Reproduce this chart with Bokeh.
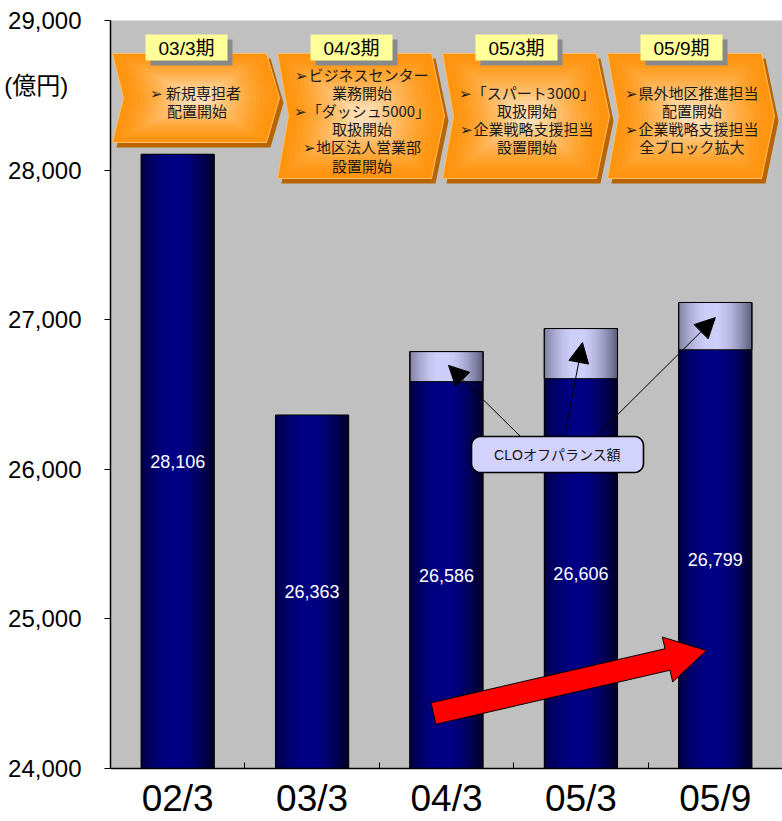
import math
from bokeh.plotting import figure
from bokeh.models import FixedTicker, NumeralTickFormatter, Arrow, NormalHead, Range1d
from bokeh.embed import file_html
from bokeh.resources import INLINE
from bokeh.core.properties import value

# ---------------- data ----------------
periods = ["02/3", "03/3", "04/3", "05/3", "05/9"]
loan_balance = [28106, 26363, 26586, 26606, 26799]
clo_offbalance = [0, 0, 201, 335, 316]
y_ticks = [24000, 25000, 26000, 27000, 28000, 29000]
unit_label = "(億円)"
unit_label_pos = 28565

milestone_periods = ["03/3期", "04/3期", "05/3期", "05/9期"]
milestone_texts = [
    ["➢  新規専担者", "配置開始"],
    ["➢ビジネスセンター", "業務開始", "➢「ダッシュ5000」", "取扱開始", "➢地区法人営業部", "設置開始"],
    ["➢「スパート3000」", "取扱開始", "➢企業戦略支援担当", "設置開始"],
    ["➢県外地区推進担当", "配置開始", "➢企業戦略支援担当", "全ブロック拡大"],
]
callout_text = "CLOオフパランス額"
callout_bars = [2, 3, 4]

# ---------------- figure ----------------
Y0, Y1 = y_ticks[0], y_ticks[-1]
p = figure(width=782, height=821, x_range=Range1d(0, len(periods)), y_range=Range1d(Y0, Y1),
           output_backend="svg", toolbar_location=None,
           min_border_left=110, min_border_right=0, min_border_top=20, min_border_bottom=53)
p.background_fill_color = "#c0c0c0"
p.border_fill_color = "white"
p.outline_line_color = None
p.grid.visible = False

# major ticks carry labels (incl. the unit label), minor ticks draw the tick marks
p.yaxis.ticker = FixedTicker(ticks=y_ticks + [unit_label_pos], minor_ticks=y_ticks)
p.yaxis.formatter = NumeralTickFormatter(format="0,0")
p.yaxis.major_label_overrides = {unit_label_pos: unit_label + "  "}
p.yaxis.major_label_text_font = "Liberation Sans, Noto Sans CJK JP"
p.yaxis.major_label_text_font_size = "24px"
p.yaxis.major_label_text_color = "black"
p.yaxis.major_tick_out = 0
p.yaxis.major_tick_in = 0
p.yaxis.minor_tick_out = 6
p.yaxis.minor_tick_in = 0
p.yaxis.minor_tick_line_color = "black"
p.yaxis.major_label_standoff = 23
p.yaxis.axis_line_color = "black"
p.yaxis.axis_line_width = 1.5

centers = [i + 0.5 for i in range(len(periods))]
p.xaxis.ticker = FixedTicker(ticks=centers, minor_ticks=[i for i in range(1, len(periods))])
p.xaxis.major_label_overrides = {c: lab for c, lab in zip(centers, periods)}
p.xaxis.major_label_text_font = "Liberation Sans"
p.xaxis.major_label_text_font_size = "37px"
p.xaxis.major_label_text_color = "black"
p.xaxis.major_tick_in = 0
p.xaxis.major_tick_out = 0
p.xaxis.minor_tick_in = 6
p.xaxis.minor_tick_out = 0
p.xaxis.minor_tick_line_color = "black"
p.xaxis.major_label_standoff = 9
p.xaxis.axis_line_color = "black"
p.xaxis.axis_line_width = 1.5

# ---------------- bars with horizontal gradient (nested layers) ----------------
BW = 0.545
NLEV = 28
PEAK, SPREAD = 0.45, 0.55


def lerp(c0, c1, t):
    return "#%02x%02x%02x" % tuple(int(round(a + (b - a) * t)) for a, b in zip(c0, c1))


NAVY_EDGE, NAVY_MID = (0, 0, 36), (0, 0, 136)
LAV_EDGE, LAV_MID = (92, 92, 122), (210, 210, 255)

sl, sr, sb, st, sc = [], [], [], [], []
for lev in range(NLEV):
    f = lev / (NLEV - 1)
    d = math.acos(min(1.0, f) ** (1 / 0.9)) * 2 / math.pi  # where profile == f
    t0 = max(0.0, PEAK - SPREAD * d)
    t1 = min(1.0, PEAK + SPREAD * d)
    if lev == 0:
        t0, t1 = 0.0, 1.0
    for c, v, o in zip(centers, loan_balance, clo_offbalance):
        l = c - BW / 2 + BW * t0
        r = c - BW / 2 + BW * t1
        sl.append(l); sr.append(r); sb.append(Y0); st.append(v)
        sc.append(lerp(NAVY_EDGE, NAVY_MID, f))
        if o > 0:
            sl.append(l); sr.append(r); sb.append(v); st.append(v + o)
            sc.append(lerp(LAV_EDGE, LAV_MID, f))
p.quad(left=sl, right=sr, bottom=sb, top=st, fill_color=sc, line_color=None)

# outlines
p.quad(left=[c - BW / 2 for c in centers], right=[c + BW / 2 for c in centers],
       bottom=[Y0] * len(centers), top=[v + o for v, o in zip(loan_balance, clo_offbalance)],
       fill_color=None, line_color="black", line_width=1)
lav_idx = [i for i, o in enumerate(clo_offbalance) if o > 0]
p.quad(left=[centers[i] - BW / 2 for i in lav_idx], right=[centers[i] + BW / 2 for i in lav_idx],
       bottom=[loan_balance[i] for i in lav_idx],
       top=[loan_balance[i] + clo_offbalance[i] for i in lav_idx],
       fill_color=None, line_color="black", line_width=1)

# value labels
p.text(x=centers, y=[(Y0 + v) / 2 for v in loan_balance], text=[f"{v:,}" for v in loan_balance],
       text_color="white", text_font=value("Liberation Sans"), text_font_size="18px",
       text_align="center", text_baseline="middle")

# ---------------- annotation helpers (reference-pixel layout -> data) ----------------
REF_LEFT, REF_TOP = 110.0, 20.0
REF_XS = 672.0 / len(periods)
REF_YS = 748.0 / (Y1 - Y0)


def dx(xp):
    return (xp - REF_LEFT) / REF_XS


def dy(yp):
    return Y1 - (yp - REF_TOP) / REF_YS


# ---------------- milestone chevrons ----------------
CHEV_LEFT = [112, 277, 442, 607]
CHEV_TOP = 53
CHEV_BOT = [142, 178, 178, 178]
CHEV_W, NOTCH, TIP = 167, 11, 13
ORANGE_EDGE, ORANGE_MID = (255, 148, 14), (255, 222, 178)
NLAYER = 16

for j, (cl, cb) in enumerate(zip(CHEV_LEFT, CHEV_BOT)):
    mid = (CHEV_TOP + cb) / 2
    pts = [(cl, CHEV_TOP), (cl + CHEV_W - TIP, CHEV_TOP), (cl + CHEV_W, mid),
           (cl + CHEV_W - TIP, cb), (cl, cb), (cl + NOTCH, mid)]
    p.patch([dx(x + 4) for x, y in pts], [dy(y + 5) for x, y in pts],
            fill_color="#b86400", line_color=None)
    cx, cy = cl + CHEV_W / 2 + 2, mid
    for k in range(NLAYER):
        s = 1 - k / NLAYER * 0.92
        t = (k / (NLAYER - 1)) ** 1.4
        xs = [dx(cx + (x - cx) * s) for x, y in pts]
        ys = [dy(cy + (y - cy) * s) for x, y in pts]
        p.patch(xs, ys, fill_color=lerp(ORANGE_EDGE, ORANGE_MID, t),
                line_color="#ffbe66" if k == 0 else None, line_width=1)
    lines = milestone_texts[j]
    n = len(lines)
    p.text(x=[dx(cl + CHEV_W / 2 + 1)] * n,
           y=[dy(mid + 3.5 + (m - (n - 1) / 2) * 18.2) for m in range(n)],
           text=lines, text_color="#1a1a1a", text_font=value("Noto Sans CJK JP"),
           text_font_size="15px", text_align="center", text_baseline="middle")
    bl, br, bt, bb = cl + 33, cl + 115, 34, 60
    p.quad(left=[dx(bl + 5)], right=[dx(br + 5)], top=[dy(bt + 5)], bottom=[dy(bb + 5)],
           fill_color="#8a8a8a", line_color=None)
    p.quad(left=[dx(bl)], right=[dx(br)], top=[dy(bt)], bottom=[dy(bb)],
           fill_color="#ffff99", line_color=None)
    p.text(x=[dx((bl + br) / 2)], y=[dy((bt + bb) / 2 + 1)], text=[milestone_periods[j]],
           text_color="black", text_font=value("Liberation Sans, Noto Sans CJK JP"),
           text_font_size="19px", text_align="center", text_baseline="middle")

# ---------------- callout with arrows ----------------
BOX_L, BOX_R, BOX_T, BOX_B, RAD = 471, 643, 436, 472, 9
arrow_starts = [(520, BOX_T), (564, BOX_T), (595, BOX_T)]
tip_dx = [0.015, 0.012, 0.0]
tip_frac = [0.54, 0.72, 0.68]
for (sx, sy), bi, ddx, fr in zip(arrow_starts, callout_bars, tip_dx, tip_frac):
    p.add_layout(Arrow(end=NormalHead(size=20, fill_color="black", line_color="black"),
                       x_start=dx(sx), y_start=dy(sy),
                       x_end=centers[bi] + ddx, y_end=loan_balance[bi] + clo_offbalance[bi] * fr,
                       line_color="black", line_width=1))

rx, ry = [], []
corners = [(BOX_R - RAD, BOX_T + RAD, -90), (BOX_R - RAD, BOX_B - RAD, 0),
           (BOX_L + RAD, BOX_B - RAD, 90), (BOX_L + RAD, BOX_T + RAD, 180)]
for ccx, ccy, a0 in corners:
    for k in range(7):
        a = math.radians(a0 + k * 15)
        rx.append(dx(ccx + RAD * math.cos(a)))
        ry.append(dy(ccy + RAD * math.sin(a)))
p.patch(rx, ry, fill_color="#d2d2fc", line_color="black", line_width=1.6)
p.text(x=[dx((BOX_L + BOX_R) / 2)], y=[dy((BOX_T + BOX_B) / 2)], text=[callout_text],
       text_color="#111111", text_font=value("Liberation Sans, Noto Sans CJK JP"),
       text_font_size="14px", text_align="center", text_baseline="middle")

# ---------------- red trend arrow ----------------
tail = (433, 713)
tip = (706, 650)
ux, uy = tip[0] - tail[0], tip[1] - tail[1]
L = math.hypot(ux, uy)
ux, uy = ux / L, uy / L
nx, ny = -uy, ux
HW, HHW, HL = 11, 23, 40
neck = (tip[0] - ux * HL, tip[1] - uy * HL)
poly = [
    (tail[0] - nx * HW, tail[1] - ny * HW),
    (neck[0] - nx * HW, neck[1] - ny * HW),
    (neck[0] - nx * HHW, neck[1] - ny * HHW),
    tip,
    (neck[0] + nx * HHW, neck[1] + ny * HHW),
    (neck[0] + nx * HW, neck[1] + ny * HW),
    (tail[0] + nx * HW, tail[1] + ny * HW),
]
p.patch([dx(x) for x, y in poly], [dy(y) for x, y in poly],
        fill_color="#ff0000", line_color="black", line_width=1)

open("out.html", "w").write(file_html(p, INLINE))
